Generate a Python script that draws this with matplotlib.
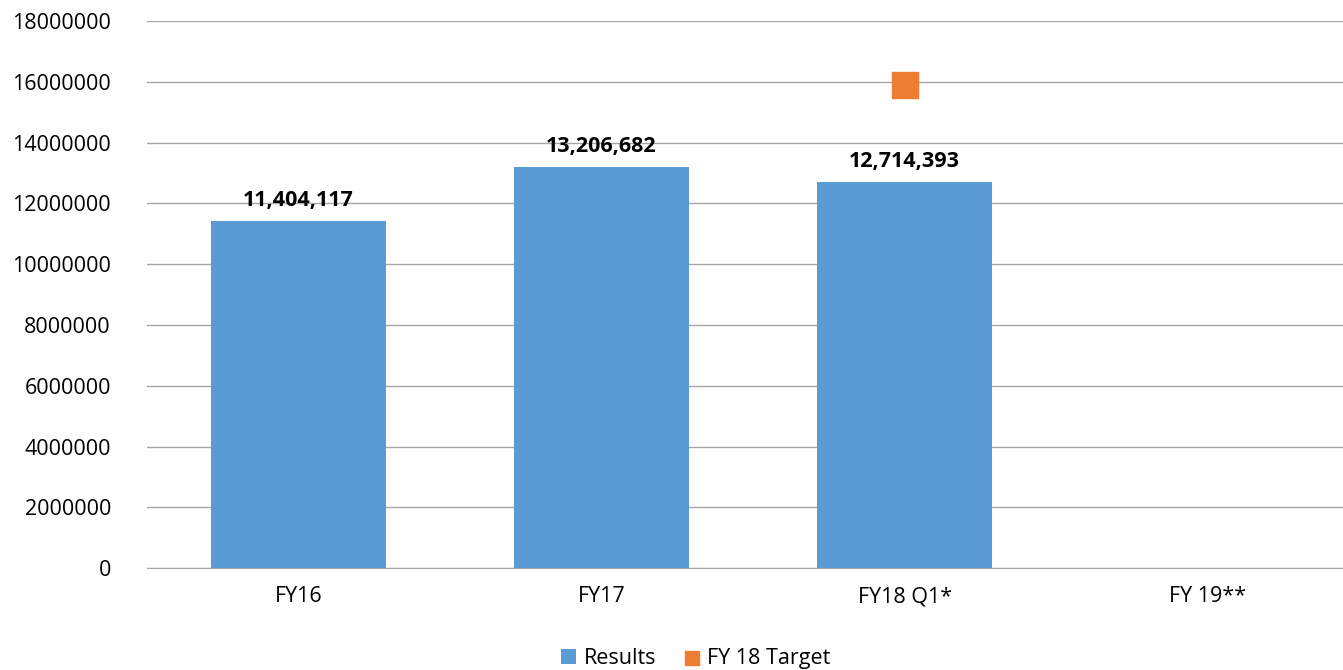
import matplotlib.pyplot as plt
import numpy as np

categories = ["FY16", "FY17", "FY18 Q1*", "FY 19**"]
results = [11404117, 13206682, 12714393, np.nan]
target_cat = "FY18 Q1*"
target_value = 15900000
y_ticks = [0, 2000000, 4000000, 6000000, 8000000, 10000000, 12000000, 14000000, 16000000, 18000000]

plt.rcParams['font.family'] = ['Open Sans', 'DejaVu Sans']

fig = plt.figure(figsize=(13.43, 6.70), dpi=100)
# plot area runs a little past the right edge of the picture
ax = fig.add_axes([0.1095, 0.152, 0.9025, 0.8167])

x = np.arange(len(categories))
bars = ax.bar(x, results, width=0.575, color='#5B9BD5', label='Results', zorder=3)
pts = ax.scatter([categories.index(target_cat)], [target_value], marker='s', s=330,
                 color='#ED7D31', label='FY 18 Target', zorder=4)

for xi, v in zip(x, results):
    if not np.isnan(v):
        ax.text(xi, v + 330000, f"{v:,.0f}", ha='center', va='bottom',
                fontsize=15.5, fontweight='bold', color='black')

ax.set_xlim(-0.5, len(categories) - 0.5)
ax.set_ylim(0, 18000000)
ax.set_yticks(y_ticks)
ax.set_yticklabels([str(t) for t in y_ticks], fontsize=15.5)
ax.set_xticks(x)
ax.set_xticklabels(categories, fontsize=15.5)
ax.tick_params(axis='both', length=0)
ax.tick_params(axis='x', pad=13)
ax.tick_params(axis='y', pad=26)
ax.grid(axis='y', color='#A6A6A6', linewidth=1, zorder=0)
for s in ['top', 'right', 'left']:
    ax.spines[s].set_visible(False)
ax.spines['bottom'].set_color('#A6A6A6')

ax.legend(handles=[bars, pts], loc='upper center', bbox_to_anchor=(0.4525, -0.11),
          ncol=2, frameon=False, fontsize=15.5, handlelength=0.7, handleheight=0.7,
          handletextpad=0.35, columnspacing=1.3, markerscale=0.55)

fig.savefig('out.png', dpi=100)
